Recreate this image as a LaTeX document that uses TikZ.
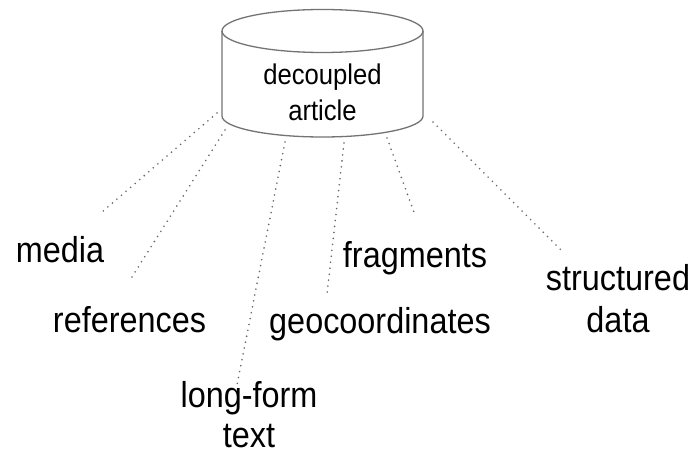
\documentclass[tikz,border=0pt]{standalone}
\usepackage{fontspec}
\setmainfont{Liberation Sans}[FakeStretch=0.9]
\usepackage{tikz}

\begin{document}
\begin{tikzpicture}[x=1pt,y=-1pt,
	part/.style={inner sep=0pt,align=center,anchor=base,font=\fontsize{36}{40}\selectfont},
	dotlink/.style={gray!80!black,line width=1.8pt,line cap=round,dash pattern=on 0pt off 6pt},
	cylline/.style={gray!90!black,line width=1.3pt}]
	\useasboundingbox (0,0) rectangle (698,457);

	%cylinder
	\draw[cylline,fill=white] (222,31) -- (222,116) arc[x radius=100.5, y radius=21, start angle=180, end angle=0] -- (423,31);
	\draw[cylline] (322.5,31) ellipse (100.5 and 21.5);
	% base of a two-line node sits on its last line
	\node[part,font=\fontsize{28.5}{36}\selectfont] (article) at (322.5,121) {decoupled\\article};

	%parts
	\node[part] (media) at (60,262) {media};
	\node[part] (references) at (129.5,332) {references};
	\node[part] (longform) at (249,447) {long-form\\text};
	\node[part] (geo) at (380,333) {geocoordinates};
	\node[part] (fragments) at (415,267) {fragments};
	\node[part,font=\fontsize{36}{42}\selectfont] (structured) at (618,332) {structured\\data};

	%ends of the dotted lines
	\coordinate (m1) at (217,113); \coordinate (m2) at (102,212);
	\coordinate (r1) at (225,130); \coordinate (r2) at (130,280);
	\coordinate (l1) at (285,142); \coordinate (l2) at (237,385);
	\coordinate (g1) at (344,143); \coordinate (g2) at (327,294);
	\coordinate (f1) at (387,138); \coordinate (f2) at (415,215);
	\coordinate (s1) at (433,122); \coordinate (s2) at (563,252);

	\draw[dotlink] (m1) -- (m2);
	\draw[dotlink] (r1) -- (r2);
	\draw[dotlink] (l1) -- (l2);
	\draw[dotlink] (g1) -- (g2);
	\draw[dotlink] (f1) -- (f2);
	\draw[dotlink] (s1) -- (s2);
\end{tikzpicture}
\end{document}
